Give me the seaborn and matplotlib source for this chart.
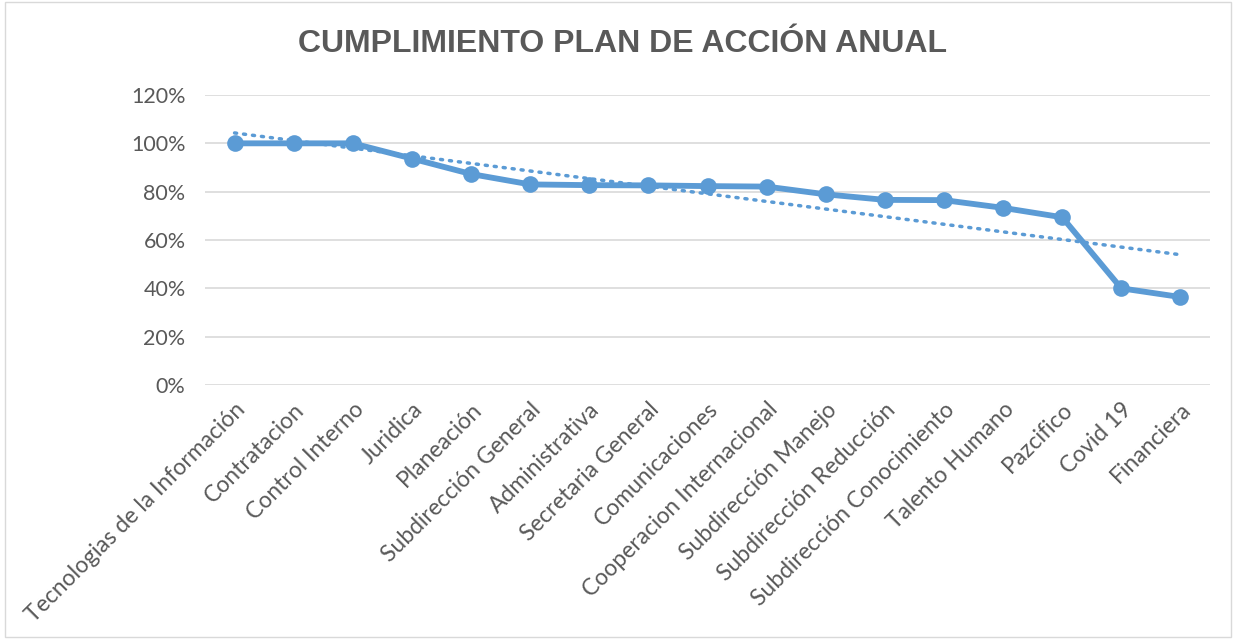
import numpy as np
import pandas as pd
import matplotlib
matplotlib.use("Agg")
import matplotlib.pyplot as plt
import seaborn as sns
from matplotlib.patches import Rectangle

areas = [
    "Tecnologias de la Información", "Contratacion", "Control Interno", "Juridica",
    "Planeación", "Subdirección General", "Administrativa", "Secretaria General",
    "Comunicaciones", "Cooperacion Internacional", "Subdirección Manejo",
    "Subdirección Reducción", "Subdirección Conocimiento", "Talento Humano",
    "Pazcifico", "Covid 19", "Financiera",
]
cumplimiento = [1.00, 1.00, 1.00, 0.937, 0.873, 0.830, 0.827, 0.826, 0.823,
                0.821, 0.789, 0.766, 0.765, 0.733, 0.694, 0.400, 0.364]
y_ticks = [0, 0.2, 0.4, 0.6, 0.8, 1.0, 1.2]
y_labels = ["0%", "20%", "40%", "60%", "80%", "100%", "120%"]

AZUL = "#5B9BD5"
GRIS = "#595959"

df = pd.DataFrame({"pos": np.arange(len(areas)), "area": areas, "valor": cumplimiento})

# tendencia lineal (como la de Excel)
pend, inter = np.polyfit(df["pos"], df["valor"], 1)
df["tendencia"] = pend * df["pos"] + inter

sns.set_style("white")
plt.rcParams["font.family"] = ["Lato", "DejaVu Sans"]

fig = plt.figure(figsize=(12.34, 6.39), dpi=100)
ax = fig.add_axes([205 / 1234, 1 - 385 / 639, 1005 / 1234, 290 / 639])

sns.lineplot(data=df, x="pos", y="tendencia", ax=ax, color=AZUL, linewidth=2.5,
             linestyle=(0, (0.6, 2.0)), dash_capstyle="round")
sns.lineplot(data=df, x="pos", y="valor", ax=ax, color=AZUL, linewidth=4.2,
             marker="o", markersize=12, markeredgewidth=0)

ax.set_xlim(-0.5, len(areas) - 0.5)
ax.set_ylim(0, 1.2)
ax.set_yticks(y_ticks)
ax.set_yticklabels(y_labels, fontsize=15.5, color=GRIS)
ax.set_xticks(df["pos"])
ax.set_xticklabels(areas, rotation=45, ha="right", rotation_mode="anchor",
                   fontsize=16.5, color=GRIS)
ax.tick_params(axis="y", length=0, pad=14)
ax.tick_params(axis="x", length=0, pad=10)
ax.grid(axis="y", color="#D9D9D9", linewidth=1.2)
ax.set_axisbelow(True)
for s in ax.spines.values():
    s.set_visible(False)
ax.set_xlabel("")
ax.set_ylabel("")

fig.text(622 / 1234, 1 - 44 / 639, "CUMPLIMIENTO PLAN DE ACCIÓN ANUAL",
         ha="center", va="center", fontsize=23, fontweight="bold", color=GRIS,
         family=["Liberation Sans", "DejaVu Sans"])

fig.patches.append(Rectangle((5 / 1234, 2 / 639), 1226 / 1234, 635 / 639,
                             transform=fig.transFigure, fill=False,
                             edgecolor="#D9D9D9", linewidth=1))

fig.savefig("out.png", dpi=100)
